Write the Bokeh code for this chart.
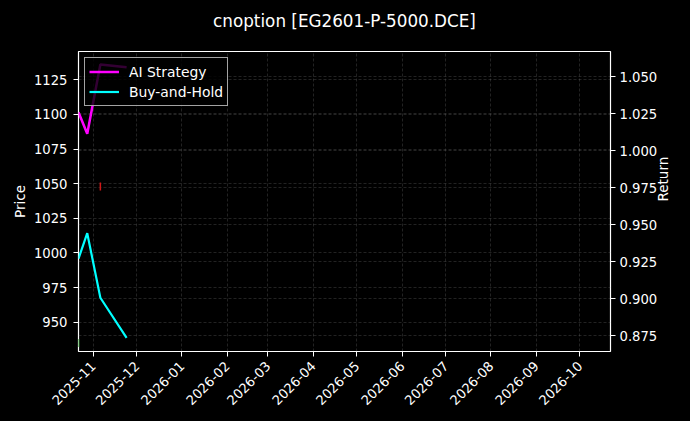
# cnoption price / return chart
from datetime import datetime
import pandas as pd
# bokeh
from bokeh.plotting import figure
from bokeh.models import (Range1d, LinearAxis, Grid, SingleIntervalTicker, MonthsTicker,
                          DatetimeTickFormatter, NumeralTickFormatter, GlobalInlineStyleSheet)
from bokeh.embed import file_html
from bokeh.resources import INLINE

# series
dates = ["2025-10-22", "2025-10-28", "2025-11-06", "2025-11-24"]
ai_strategy = [1101.5, 1086.0, 1136.0, 1134.0]
buy_and_hold = [995.8, 1014.2, 967.6, 938.7]

# trade markers
buy_dates = ["2025-10-22"]
buy_prices = [935.0]
sell_dates = ["2025-11-06"]
sell_prices = [1048.0]

FONT = "DejaVu Sans"

t = pd.to_datetime(dates)

p = figure(width=674, height=405, x_axis_type="datetime",
           output_backend="svg", toolbar_location=None,
           x_range=Range1d(datetime(2025, 10, 22), datetime(2026, 10, 22)),
           y_range=Range1d(928.8, 1145.4),
           min_border_left=68, min_border_right=71, min_border_top=43, min_border_bottom=62)

# an empty second line keeps the title up near the top of the page
p.title.text = "cnoption [EG2601-P-5000.DCE]\n "
p.title.align = "center"
p.title.text_color = "white"
p.title.text_font = FONT
p.title.text_font_size = "16.8px"
p.title.text_font_style = "normal"
p.title.standoff = 1

p.background_fill_color = "black"
p.border_fill_color = "black"
p.outline_line_color = "white"
p.outline_line_width = 1.2

# second axis for the return
p.extra_y_ranges = {"ret": Range1d(0.8642, 1.0669)}
ret_axis = LinearAxis(y_range_name="ret", axis_label="Return",
                      ticker=SingleIntervalTicker(interval=0.025),
                      formatter=NumeralTickFormatter(format="0.000"))
p.add_layout(ret_axis, "right")
try:
    ret_axis.axis_label_orientation = 1.5708
except AttributeError:
    pass

p.yaxis[0].ticker = SingleIntervalTicker(interval=25)
p.yaxis[0].axis_label = "Price"
p.xaxis.ticker = MonthsTicker(months=list(range(12)))
p.xaxis.formatter = DatetimeTickFormatter(months="%Y-%m", days="%Y-%m")
p.xaxis.major_label_orientation = 0.785398

for ax in p.axis:
    ax.axis_line_color = None
    ax.major_tick_line_color = "white"
    ax.major_tick_in = 0
    ax.major_tick_out = 5
    ax.minor_tick_line_color = None
    ax.major_label_standoff = 6
    ax.axis_label_standoff = 3
    ax.major_label_text_color = "white"
    ax.major_label_text_font = FONT
    ax.major_label_text_font_size = "13.2px"
    ax.axis_label_text_color = "white"
    ax.axis_label_text_font = FONT
    ax.axis_label_text_font_size = "13.5px"
    ax.axis_label_text_font_style = "normal"
p.xaxis.major_label_standoff = 7
ret_axis.major_label_standoff = 4
ret_axis.axis_label_standoff = 3

p.grid.grid_line_color = "#808080"
p.grid.grid_line_alpha = 0.45
p.grid.grid_line_dash = "3 2"
p.grid.grid_line_width = 0.6
ret_grid = Grid(dimension=1, ticker=ret_axis.ticker, y_range_name="ret",
                grid_line_color="#808080", grid_line_alpha=0.45,
                grid_line_dash="3 2", grid_line_width=0.6)
p.add_layout(ret_grid)

p.line(t, ai_strategy, line_color="magenta", line_width=2.5, legend_label="AI Strategy")
p.line(t, buy_and_hold, line_color="cyan", line_width=2.2, legend_label="Buy-and-Hold")

p.scatter(pd.to_datetime(buy_dates), buy_prices, marker="dash", angle=1.5708, size=8,
          line_color="#1f9f1f", line_width=1.5)
p.scatter(pd.to_datetime(sell_dates), sell_prices, marker="dash", angle=1.5708, size=8,
          line_color="#d01818", line_width=1.5)

p.legend.location = "top_left"
p.legend.margin = 6
p.legend.padding = 4
p.legend.spacing = 1
p.legend.label_height = 19
p.legend.glyph_height = 19
p.legend.glyph_width = 30
p.legend.label_standoff = 10
p.legend.background_fill_color = "black"
p.legend.background_fill_alpha = 0.8
p.legend.border_line_color = "#cccccc"
p.legend.border_line_alpha = 0.8
p.legend.label_text_color = "white"
p.legend.label_text_font = FONT
p.legend.label_text_font_size = "13.9px"

p.stylesheets = [GlobalInlineStyleSheet(css="body { background: #000; margin: 8px; }")]

open("out.html", "w").write(file_html(p, INLINE))
